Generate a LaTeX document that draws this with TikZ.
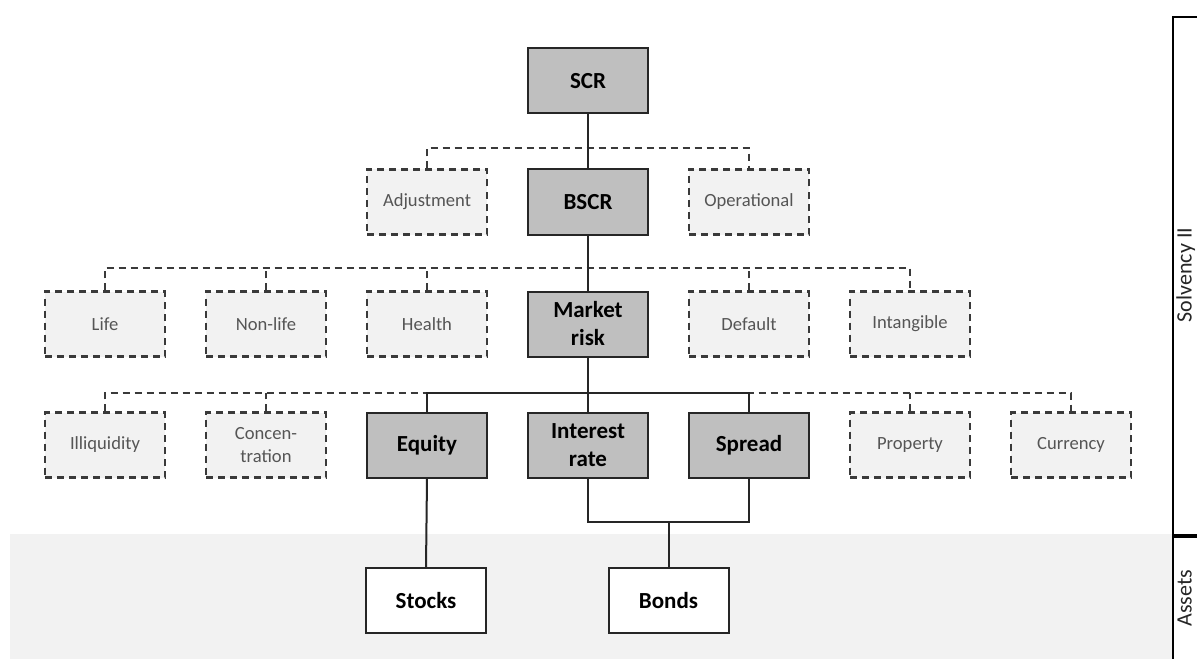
\documentclass[tikz,border=0pt]{standalone}
\usepackage{fontspec}
\setmainfont{Carlito}
\definecolor{dkgray}{HTML}{BFBFBF}
\definecolor{ltgray}{HTML}{F2F2F2}
\definecolor{bandgray}{HTML}{F2F2F2}
\definecolor{dashc}{HTML}{3A3A3A}
\definecolor{txtgray}{HTML}{555555}
\definecolor{linec}{HTML}{262626}
\begin{document}
\begin{tikzpicture}[x=1bp,y=-1bp,
  box/.style={minimum width=120bp, minimum height=65bp, inner sep=0pt, line width=2bp, align=center},
  mainbox/.style={box, draw=linec, fill=dkgray, text=black, font=\bfseries\fontsize{23bp}{28bp}\selectfont},
  optbox/.style={box, draw=dashc, fill=ltgray, line width=2.2bp, dash pattern=on 7bp off 5bp, text=txtgray, font=\fontsize{18.6bp}{23bp}\selectfont},
  assetbox/.style={box, draw=linec, fill=white, text=black, font=\bfseries\fontsize{23bp}{28bp}\selectfont},
  link/.style={line width=2bp, draw=linec},
  dlink/.style={line width=2.2bp, draw=dashc, dash pattern=on 7bp off 5bp},
  sidelabel/.style={rotate=90, anchor=base, inner sep=0pt, text=black!85, font=\fontsize{22bp}{26bp}\selectfont}]
\clip (0,0) rectangle (1197,659);
\fill[white] (0,0) rectangle (1197,659);
\fill[bandgray] (10,534) rectangle (1173,659);

% nodes
\node[mainbox] (scr) at (588,81) {SCR};
\node[optbox] (adj) at (427,202) {Adjustment};
\node[mainbox] (bscr) at (588,202) {BSCR};
\node[optbox] (oper) at (749,202) {Operational};

\node[optbox] (life) at (105,324) {Life};
\node[optbox] (nonlife) at (266,324) {Non-life};
\node[optbox] (health) at (427,324) {Health};
\node[mainbox] (mkt) at (588,324) {Market\\risk};
\node[optbox] (default) at (749,324) {Default};
\node[optbox] (intang) at (910,324) {Intangible};

\node[optbox] (illiq) at (105,445) {Illiquidity};
\node[optbox] (conc) at (266,445) {Concen-\\tration};
\node[mainbox] (equity) at (427,445) {Equity};
\node[mainbox] (ir) at (588,445) {Interest\\rate};
\node[mainbox] (spread) at (749,445) {Spread};
\node[optbox] (prop) at (910,445) {Property};
\node[optbox] (curr) at (1071,445) {Currency};

\node[assetbox] (stocks) at (426,600.5) {Stocks};
\node[assetbox] (bonds) at (668.5,600.5) {Bonds};

% junctions
\coordinate (j1) at (588,148);
\coordinate (j2) at (588,268);
\coordinate (j3) at (588,393);
\coordinate (j4) at (668.5,522);

% dashed connectors
\draw[dlink] (adj.north) |- (j1) -| (oper.north);
\draw[dlink] (life.north) |- (j2) -| (intang.north);
\draw[dlink] (nonlife.north) -- (nonlife.north |- j2);
\draw[dlink] (health.north) -- (health.north |- j2);
\draw[dlink] (default.north) -- (default.north |- j2);
\draw[dlink] (illiq.north) |- (j3) -| (curr.north);
\draw[dlink] (conc.north) -- (conc.north |- j3);
\draw[dlink] (prop.north) -- (prop.north |- j3);

% solid connectors
\draw[link] (scr.south) -- (bscr.north);
\draw[link] (bscr.south) -- (mkt.north);
\draw[link] (mkt.south) -- (ir.north);
\draw[link] (equity.north) |- (j3) -| (spread.north);
\draw[link] (equity.south) -- (stocks.north);
\draw[link] (ir.south) |- (j4) -| (spread.south);
\draw[link] (j4) -- (bonds.north);

% right bracket
\draw[line width=2.5bp, draw=black] (1197,17) -- (1173,17) -- (1173,659);
\draw[line width=4bp, draw=black] (1173,536) -- (1197,536);
\node[sidelabel] (solv) at (1191.5,275) {Solvency II};
\node[sidelabel] (assets) at (1191.5,598) {Assets};
\end{tikzpicture}
\end{document}
